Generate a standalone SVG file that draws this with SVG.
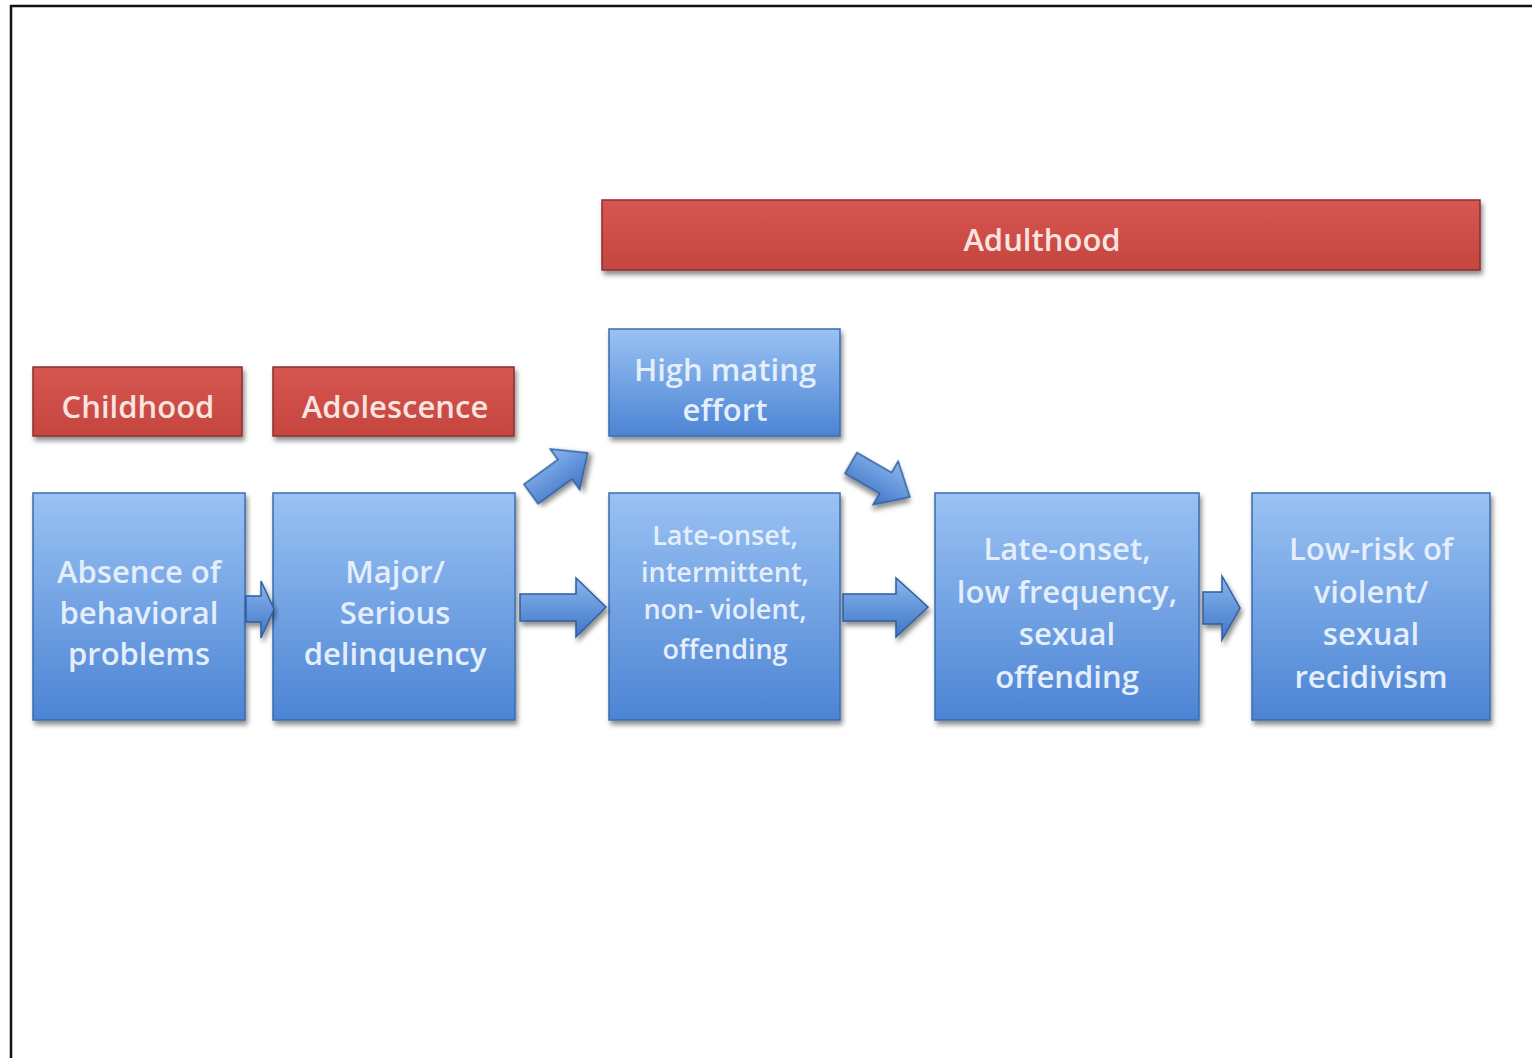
<svg xmlns="http://www.w3.org/2000/svg" width="1532" height="1058" viewBox="0 0 1532 1058">
<defs>
<linearGradient id="gBlue" x1="0" y1="0" x2="0" y2="1">
<stop offset="0" stop-color="#9ac2f3"/>
<stop offset="1" stop-color="#4c84d4"/>
</linearGradient>
<linearGradient id="gRed" x1="0" y1="0" x2="0" y2="1">
<stop offset="0" stop-color="#d65652"/>
<stop offset="1" stop-color="#c5463f"/>
</linearGradient>
<linearGradient id="gArrow" x1="0" y1="0" x2="0" y2="1">
<stop offset="0" stop-color="#8ab6ee"/>
<stop offset="1" stop-color="#3f76c6"/>
</linearGradient>
<filter id="sh" x="-10%" y="-10%" width="125%" height="130%">
<feDropShadow dx="2" dy="4" stdDeviation="2.5" flood-color="#000" flood-opacity="0.45"/>
</filter>
<style>
.blue{fill:url(#gBlue);stroke:#3a6cb3;stroke-width:1.5;filter:url(#sh)}
.red{fill:url(#gRed);stroke:#8a2f2b;stroke-width:1.5;filter:url(#sh)}
.arr{fill:url(#gArrow);stroke:#2f5e9f;stroke-width:1.5;filter:url(#sh)}
text{font-family:"Open Sans","Liberation Sans",sans-serif;text-anchor:middle;font-weight:600}
.tb{fill:#e4eefc;font-size:31px}
.tr{fill:#fbe3df;font-size:31px}
.ts{fill:#e4eefc;font-size:27px}
</style>
</defs>
<rect width="1532" height="1058" fill="#fff"/>
<path d="M11 1058 V6 H1532" fill="none" stroke="#111" stroke-width="2.5"/>

<g id="childhood"><rect class="red" x="33" y="367" width="209" height="69"/><text class="tr" x="138" y="418">Childhood</text></g>
<g id="adolescence"><rect class="red" x="273" y="367" width="241" height="69"/><text class="tr" x="395" y="418">Adolescence</text></g>
<g id="adulthood"><rect class="red" x="602" y="200" width="878" height="70"/><text class="tr" x="1042" y="251">Adulthood</text></g>

<g id="mating"><rect class="blue" x="609" y="329" width="231" height="107"/><text class="tb" x="725" y="381">High mating</text><text class="tb" x="725" y="421">effort</text></g>

<g id="box1"><rect class="blue" x="33" y="493" width="212" height="227"/><text class="tb" x="139" y="583">Absence of</text><text class="tb" x="139" y="624">behavioral</text><text class="tb" x="139" y="665">problems</text></g>
<g id="box2"><rect class="blue" x="273" y="493" width="242" height="227"/><text class="tb" x="395" y="583">Major/</text><text class="tb" x="395" y="624">Serious</text><text class="tb" x="395" y="665">delinquency</text></g>
<g id="box3"><rect class="blue" x="609" y="493" width="231" height="227"/><text class="ts" x="725" y="545">Late-onset,</text><text class="ts" x="725" y="582">intermittent,</text><text class="ts" x="725" y="619">non- violent,</text><text class="ts" x="725" y="659">offending</text></g>
<g id="box4"><rect class="blue" x="935" y="493" width="264" height="227"/><text class="tb" x="1067" y="560">Late-onset,</text><text class="tb" x="1067" y="603">low frequency,</text><text class="tb" x="1067" y="645">sexual</text><text class="tb" x="1067" y="688">offending</text></g>
<g id="box5"><rect class="blue" x="1252" y="493" width="238" height="227"/><text class="tb" x="1371" y="560">Low-risk of</text><text class="tb" x="1371" y="603">violent/</text><text class="tb" x="1371" y="645">sexual</text><text class="tb" x="1371" y="688">recidivism</text></g>

<g id="connectors">
<polygon class="arr" points="246,596 261,596 261,581 274,609 261,638 261,622 246,622"/>
<polygon class="arr" points="520,594 576,594 576,578 606,607 576,637 576,621 520,621"/>
<polygon class="arr" points="843,594 896,594 896,578 928,607 896,637 896,621 843,621"/>
<polygon class="arr" points="1203,592 1222,592 1222,576 1240,608 1222,640 1222,624 1203,624"/>
<polygon class="arr" transform="translate(531,494) rotate(-36)" points="0,-12 42,-12 42,-25 70,0 42,25 42,12 0,12"/>
<polygon class="arr" transform="translate(851,463) rotate(30)" points="0,-12 40,-12 40,-25 68,0 40,25 40,12 0,12"/>
</g>
</svg>
